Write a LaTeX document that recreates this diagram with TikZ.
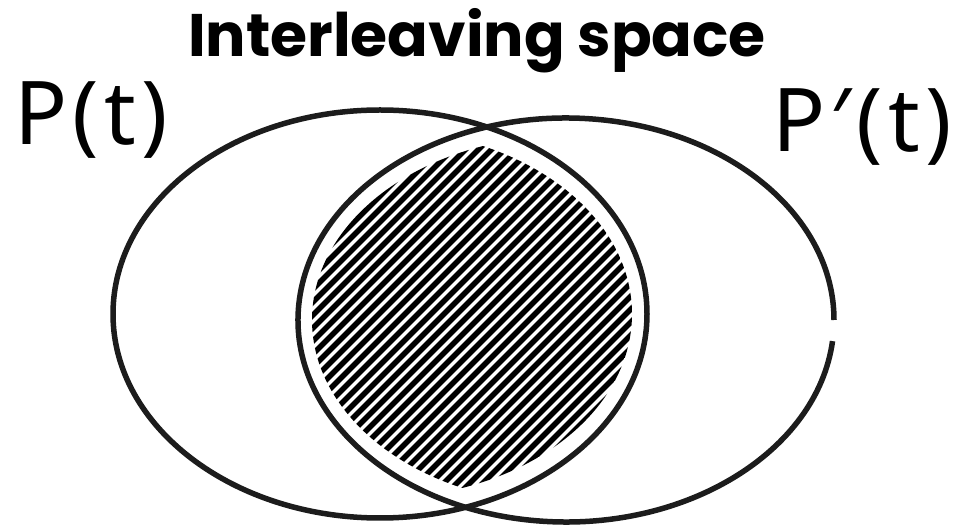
\documentclass[tikz,border=0pt]{standalone}
\usepackage{fontspec}
\setmainfont{Noto Sans}
\newfontfamily\titlefont{Poppins}
\newfontfamily\handfont[LetterSpace=6]{Noto Sans}
\definecolor{ink}{HTML}{1C1C1C}
\tikzset{
  setline/.style={draw=ink, line width=5.5pt},
  hatchline/.style={draw=black, line width=5.5pt, line cap=round},
  titletext/.style={font=\titlefont\bfseries\fontsize{60}{66}\selectfont, anchor=base, inner sep=0pt},
  labeltext/.style={font=\handfont\fontsize{88}{94}\selectfont, anchor=base west, inner sep=0pt}
}
\begin{document}
\begin{tikzpicture}[x=1pt,y=-1pt]
\useasboundingbox (0,0) rectangle (954,526);
% hatching of the intersection
\begin{scope}
  \clip (380,314) ellipse [x radius=252, y radius=184];
  \clip (566,320) ellipse [x radius=254, y radius=184];
  \foreach \i in {-32,...,32} {
    \draw[hatchline] ({472+\i*13-320},{312+320}) -- ({472+\i*13+320},{312-320});
  }
\end{scope}
% the two sets
\draw[setline] (380,314) ellipse [x radius=267, y radius=204];
\draw[setline] ({566+268*cos(6)},{320+202*sin(6)}) arc [start angle=6, end angle=360, x radius=268, y radius=202];
% texts
\node[titletext] (title) at (477,57) {Interleaving space};
\node[labeltext] (p) at (14,145) {P(t)};
\node[labeltext] (pp) at (772,152) {P′(t)};
\end{tikzpicture}
\end{document}
